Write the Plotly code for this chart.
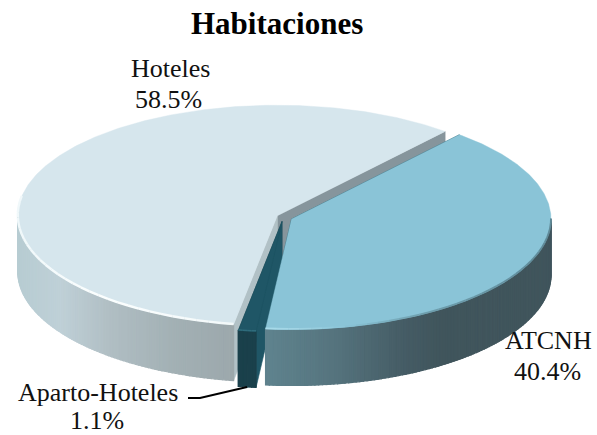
import math
import plotly.graph_objects as go

title = "Habitaciones"
labels = ["ATCNH", "Aparto-Hoteles", "Hoteles"]
values = [40.4, 1.1, 58.5]

W, H = 597, 435
ROT = 40.3
RX, RY, DEPTH = 259.5, 110.5, 56
CENTERS = {"ATCNH": (291.5, 219), "Aparto-Hoteles": (282, 221.5), "Hoteles": (277.3, 215.7)}
TOP = {"ATCNH": "#8AC4D7", "Aparto-Hoteles": "#1F5666", "Hoteles": "#D6E6ED"}
SIDE = {
    "ATCNH": [(265, "#5F838E"), (330, "#56757F"), (400, "#465D66"), (440, "#40555C"), (552, "#40555C")],
    "Aparto-Hoteles": [(238, "#1A404B"), (256, "#1A404B")],
    "Hoteles": [(17, "#B7CCD2"), (60, "#BFD0D7"), (110, "#B0BEC3"), (170, "#A3B1B5"), (233, "#9CA8AC")],
}
FACE_START = {"Hoteles": "#B1C1C6", "Aparto-Hoteles": "#1F5666", "ATCNH": "#1F5666"}
FACE_END = {"Hoteles": "#86959C", "Aparto-Hoteles": "#1A404B", "ATCNH": "#1F5666"}
RIM = {
    "ATCNH": [(265, "#A9DBEA"), (300, "#A0D4E4"), (345, "#8AC4D7"), (420, "#6F9FAE"), (552, "#5F8A98")],
    "Aparto-Hoteles": [(238, "#2F6C7C"), (256, "#2F6C7C")],
    "Hoteles": [(17, "#F0F8FA"), (100, "#FBFEFE"), (233, "#F3F9FA")],
}
RIM_WIDTH = {"ATCNH": 1.8, "Aparto-Hoteles": 1.5, "Hoteles": 2.4}
RIM_PAST_BACK = {"ATCNH": 0, "Aparto-Hoteles": 0, "Hoteles": 10}


def hex2rgb(c):
    return tuple(int(c[i:i + 2], 16) for i in (1, 3, 5))


def ramp(stops, x):
    if x <= stops[0][0]:
        return stops[0][1]
    for (x0, c0), (x1, c1) in zip(stops, stops[1:]):
        if x <= x1:
            t = (x - x0) / (x1 - x0)
            a, b = hex2rgb(c0), hex2rgb(c1)
            return "#%02X%02X%02X" % tuple(round(a[i] + (b[i] - a[i]) * t) for i in range(3))
    return stops[-1][1]


def pt(name, deg, dz=0):
    cx, cy = CENTERS[name]
    r = math.radians(deg)
    return cx + RX * math.sin(r), cy - RY * math.cos(r) + dz


def poly(fig, pts, color, line=0.6):
    xs = [p[0] for p in pts] + [pts[0][0]]
    ys = [p[1] for p in pts] + [pts[0][1]]
    fig.add_trace(go.Scatter(x=xs, y=ys, mode="lines", fill="toself", fillcolor=color,
                             line=dict(color=color, width=line), hoverinfo="skip", showlegend=False))


def arc(name, a, b, n=None):
    n = n or max(2, int(abs(b - a) * 1.5))
    return [a + (b - a) * i / n for i in range(n + 1)]


spans = {}
start = ROT
for lab, v in zip(labels, values):
    sweep = v / sum(values) * 360
    spans[lab] = (start, start + sweep)
    start += sweep

fig = go.Figure()


def draw(name):
    a, b = spans[name]
    c = CENTERS[name]
    # cut faces
    for ang, col in ((b, FACE_END[name]), (a, FACE_START[name])):
        e = pt(name, ang)
        poly(fig, [c, e, (e[0], e[1] + DEPTH), (c[0], c[1] + DEPTH)], col)
    # outer wall (front half only), shaded across the width
    lo = max(a, 90) if a < 270 else a
    hi = min(b, 270)
    if hi > lo:
        angs = arc(name, lo, hi, max(4, int((hi - lo) * 1.2)))
        for p, q in zip(angs, angs[1:]):
            P, Q = pt(name, p), pt(name, q)
            poly(fig, [P, Q, (Q[0], Q[1] + DEPTH), (P[0], P[1] + DEPTH)],
                 ramp(SIDE[name], (P[0] + Q[0]) / 2), line=1.2)
    # top
    poly(fig, [c] + [pt(name, t) for t in arc(name, a, b)], TOP[name], line=0.4)
    # rim highlight on the front edge
    if hi > lo:
        angs = arc(name, lo, hi + RIM_PAST_BACK[name], max(4, int((hi - lo) / 2.5)))
        for p, q in zip(angs, angs[1:]):
            P, Q = pt(name, p), pt(name, q)
            fig.add_trace(go.Scatter(x=[P[0], Q[0]], y=[P[1] - 0.6, Q[1] - 0.6], mode="lines",
                                     line=dict(color=ramp(RIM[name], (P[0] + Q[0]) / 2), width=RIM_WIDTH[name]),
                                     hoverinfo="skip", showlegend=False))


for name in ["Hoteles", "Aparto-Hoteles", "ATCNH"]:
    draw(name)

FONT = "Liberation Serif"
pct = {l: f"{v:.1f}%" for l, v in zip(labels, values)}
ann = [
    dict(x=170, y=68, text="Hoteles"), dict(x=168, y=99, text=pct["Hoteles"]),
    dict(x=548, y=340, text="ATCNH"), dict(x=547, y=371, text=pct["ATCNH"]),
    dict(x=98, y=392, text="Aparto-Hoteles"), dict(x=97, y=420, text=pct["Aparto-Hoteles"]),
]
annotations = [dict(a, xref="x", yref="y", showarrow=False, xanchor="center", yanchor="middle",
                    font=dict(family=FONT, size=26, color="#111111")) for a in ann]
annotations.append(dict(x=277, y=23, xref="x", yref="y", text=f"<b>{title}</b>", showarrow=False,
                        xanchor="center", yanchor="middle", font=dict(family=FONT, size=31, color="#000000")))

fig.update_layout(
    width=W, height=H, margin=dict(l=0, r=0, t=0, b=0), autosize=False,
    paper_bgcolor="white", plot_bgcolor="white", showlegend=False,
    xaxis=dict(range=[0, W], visible=False, fixedrange=True),
    yaxis=dict(range=[H, 0], visible=False, fixedrange=True),
    annotations=annotations,
    shapes=[dict(type="path", xref="x", yref="y", path="M 188 398 L 200 398 L 247 387",
                 line=dict(color="#000000", width=2))],
)
fig.write_html("out.html", config={"displayModeBar": False},
               post_script="document.body.style.margin='0';document.body.style.overflow='hidden';")
